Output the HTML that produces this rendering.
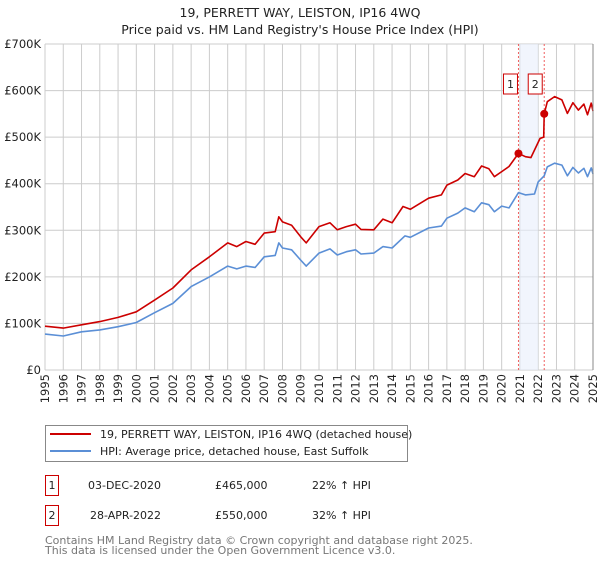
<!DOCTYPE html>
<html><head><meta charset="utf-8"><style>
body{margin:0;background:#fff;font-family:"DejaVu Sans","Liberation Sans",sans-serif;}
svg text{font-family:"DejaVu Sans","Liberation Sans",sans-serif;}
</style></head><body>
<svg id="c" width="600" height="560" xmlns="http://www.w3.org/2000/svg">
<text x="300" y="17" text-anchor="middle" font-size="12.5" fill="#222">19, PERRETT WAY, LEISTON, IP16 4WQ</text>
<text x="300" y="34" text-anchor="middle" font-size="12.5" fill="#222">Price paid vs. HM Land Registry's House Price Index (HPI)</text>
<g id="grid"></g>
<g id="ann"></g>
<g id="lines"></g>
<g id="axes"></g>
<g>
<rect x="45.5" y="425.5" width="362" height="36" fill="#fff" stroke="#888"/>
<line x1="50" y1="434" x2="91" y2="434" stroke="#cc0000" stroke-width="2"/>
<text x="100" y="438" font-size="11" fill="#222">19, PERRETT WAY, LEISTON, IP16 4WQ (detached house)</text>
<line x1="50" y1="451" x2="91" y2="451" stroke="#5b8fd6" stroke-width="2"/>
<text x="100" y="455" font-size="11" fill="#222">HPI: Average price, detached house, East Suffolk</text>
</g>
<g font-size="11" fill="#222">
<rect x="45.5" y="475.5" width="13" height="20" fill="#fff" stroke="#cc0000"/>
<text x="52" y="489" text-anchor="middle">1</text>
<text x="88" y="489">03-DEC-2020</text>
<text x="215" y="489">£465,000</text>
<text x="312" y="489">22% ↑ HPI</text>
<rect x="45.5" y="505.5" width="13" height="20" fill="#fff" stroke="#cc0000"/>
<text x="52" y="519" text-anchor="middle">2</text>
<text x="90" y="519">28-APR-2022</text>
<text x="215" y="519">£550,000</text>
<text x="312" y="519">32% ↑ HPI</text>
</g>
<text x="45" y="544" font-size="11" fill="#777">Contains HM Land Registry data © Crown copyright and database right 2025.</text>
<text x="45" y="554" font-size="11" fill="#777">This data is licensed under the Open Government Licence v3.0.</text>
</svg>
<script>
const yearTicks=[1995,1996,1997,1998,1999,2000,2001,2002,2003,2004,2005,2006,2007,2008,2009,2010,2011,2012,2013,2014,2015,2016,2017,2018,2019,2020,2021,2022,2023,2024,2025];
const yTicks=[0,100,200,300,400,500,600,700];
const yTickLabels=["£0","£100K","£200K","£300K","£400K","£500K","£600K","£700K"];
const hpiDates=[1995,1996,1997,1998,1999,2000,2001,2002,2003,2004,2005,2005.5,2006,2006.5,2007,2007.6,2007.8,2008,2008.5,2009,2009.3,2010,2010.6,2011,2011.5,2012,2012.3,2013,2013.5,2014,2014.7,2015,2016,2016.7,2017,2017.6,2018,2018.5,2018.9,2019.3,2019.6,2020,2020.4,2020.92,2021.3,2021.8,2022,2022.33,2022.5,2022.9,2023.3,2023.6,2023.9,2024.2,2024.5,2024.7,2024.9,2025];
const hpiValues=[77,73,82,86,93,102,123,143,179,200,223,217,223,220,243,246,273,262,258,236,223,251,260,247,254,258,249,251,265,262,288,285,305,309,326,337,348,340,359,355,340,352,348,381,376,378,404,417,436,444,440,417,435,423,433,415,434,421];
const propDates=[1995,1996,1997,1998,1999,2000,2001,2002,2003,2004,2005,2005.5,2006,2006.5,2007,2007.6,2007.8,2008,2008.5,2009,2009.3,2010,2010.6,2011,2011.5,2012,2012.3,2013,2013.5,2014,2014.6,2015,2016,2016.7,2017,2017.6,2018,2018.5,2018.9,2019.3,2019.6,2020,2020.4,2020.92,2021.3,2021.6,2022.1,2022.3,2022.33,2022.5,2022.9,2023.3,2023.6,2023.9,2024.2,2024.5,2024.7,2024.9,2025];
const propValues=[94,90,97,104,113,125,150,176,215,243,273,265,276,270,294,297,329,318,311,286,273,308,316,301,308,313,302,301,324,316,351,345,369,376,397,408,422,415,438,432,415,426,437,465,458,456,497,500,550,576,587,580,551,574,558,571,548,573,556];
const saleDates=[2020.92,2022.33];
const saleValues=[465,550];
const saleLabels=["1","2"];
const NS="http://www.w3.org/2000/svg";
const X0=45,X1=593,Y0=370,Y1=44;
function xs(d){return X0+(d-1995)/(2025-1995)*(X1-X0);}
function ys(v){return Y0-(v/700)*(Y0-Y1);}
function mk(t,a,p){const e=document.createElementNS(NS,t);for(const k in a)e.setAttribute(k,a[k]);p.appendChild(e);return e;}
const grid=document.getElementById('grid'),axes=document.getElementById('axes'),lines=document.getElementById('lines'),ann=document.getElementById('ann');
yTicks.forEach((v,i)=>{const l=mk('line',{x1:X0,x2:X1,y1:ys(v),y2:ys(v),stroke:'#ccc','stroke-width':1},grid);


const t=mk('text',{x:X0-4,y:ys(v)+4,'text-anchor':'end','font-size':11.5,fill:'#222'},axes);t.textContent=yTickLabels[i];

});
yearTicks.forEach(y=>{const l=mk('line',{x1:xs(y),x2:xs(y),y1:Y1,y2:Y0,stroke:'#ccc','stroke-width':1},grid);


const t=mk('text',{x:0,y:0,'text-anchor':'end','font-size':11.5,fill:'#222',transform:`translate(${xs(y)+4},${Y0+4}) rotate(-90)`},axes);t.textContent=y;

});
const shade=mk('rect',{x:xs(2021),y:Y1,width:xs(2022)-xs(2021),height:Y0-Y1,fill:'#e8eefb',opacity:0.6},ann);


saleDates.forEach((d,i)=>{const l=mk('line',{x1:xs(d),x2:xs(d),y1:Y1,y2:Y0,stroke:'#f06060','stroke-dasharray':'2,2','stroke-width':1},ann);


const bx=xs(d)-10+(i==0?-1:-2);
const r=mk('rect',{x:bx-4,y:74,width:14,height:20,fill:'#fff',stroke:'#cc0000'},ann);


const t=mk('text',{x:bx+3,y:88,'text-anchor':'middle','font-size':11,fill:'#222'},ann);t.textContent=saleLabels[i];

});
function path(ds,vs,c,n){const p=mk('path',{d:ds.map((d,i)=>(i?'L':'M')+xs(d).toFixed(1)+','+ys(vs[i]).toFixed(1)).join(''),fill:'none',stroke:c,'stroke-width':1.6,'stroke-linejoin':'round'},lines);

}
path(hpiDates,hpiValues,'#5b8fd6','hpi-line');
path(propDates,propValues,'#cc0000','property-line');
saleDates.forEach((d,i)=>{const c=mk('circle',{cx:xs(d),cy:ys(saleValues[i]),r:4,fill:'#cc0000'},lines);

});
const ra=mk('line',{x1:X1,x2:X1,y1:Y1,y2:Y0,stroke:'#888','stroke-width':1},axes);


</script>
</body></html>
